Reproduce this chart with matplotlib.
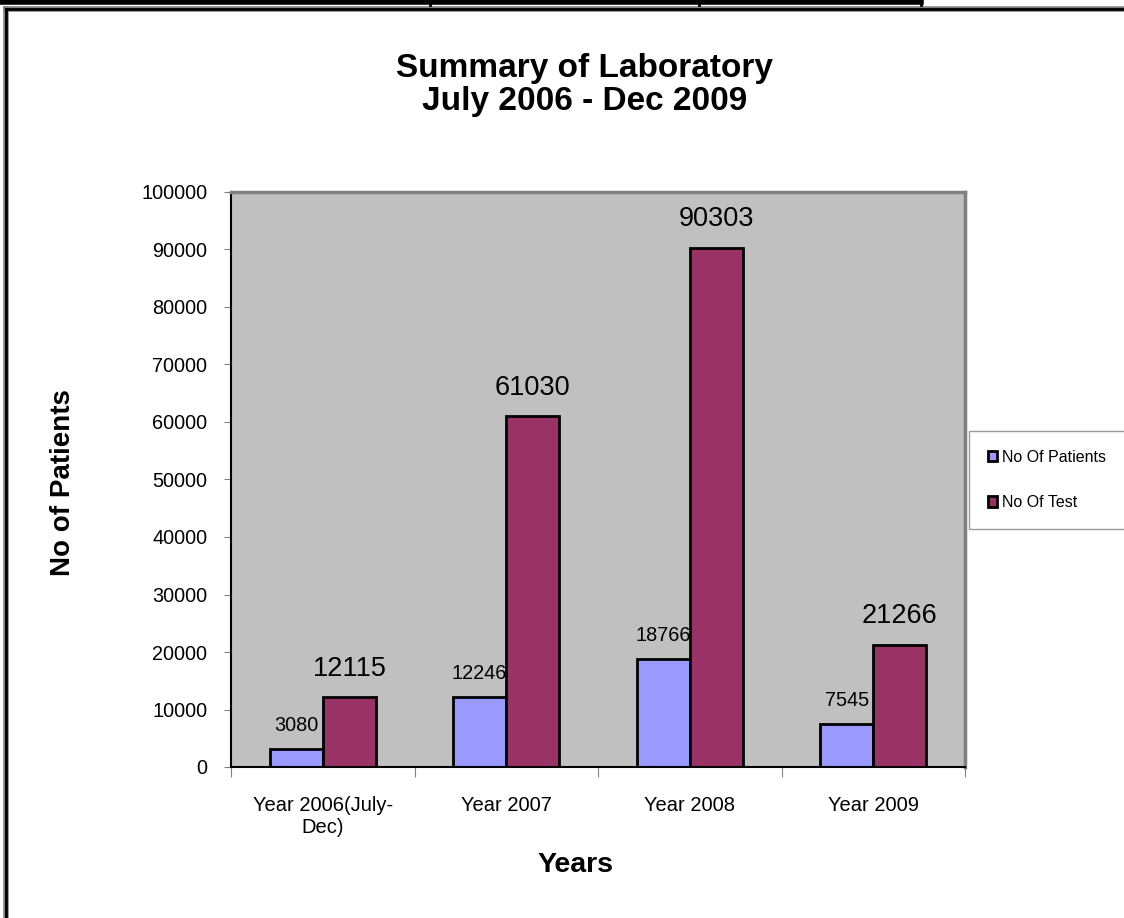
import matplotlib
matplotlib.use('Agg')
from matplotlib import pyplot as plt
from matplotlib.lines import Line2D
from matplotlib.patches import Patch
import numpy as np

plt.rcParams['font.family'] = ['Liberation Sans', 'DejaVu Sans']

years = ['Year 2006(July-\nDec)', 'Year 2007', 'Year 2008', 'Year 2009']
patients = [3080, 12246, 18766, 7545]
tests = [12115, 61030, 90303, 21266]

W, H = 1124, 918
fig = plt.figure(figsize=(W / 100, H / 100), dpi=100)
ax = fig.add_axes([231 / W, 1 - 767 / H, (965 - 231) / W, (767 - 192) / H])
ax.set_facecolor('#C0C0C0')

x = np.arange(len(years))
width = 0.29
b1 = ax.bar(x - width / 2, patients, width, color='#9999FF', edgecolor='black', linewidth=2, label='No Of Patients')
b2 = ax.bar(x + width / 2, tests, width, color='#993366', edgecolor='black', linewidth=2, label='No Of Test')

for rect, v in zip(b1, patients):
    ax.annotate(str(v), (rect.get_x() + rect.get_width() / 2, v), xytext=(0, 10),
                textcoords='offset points', ha='center', va='bottom', fontsize=14.3)
for rect, v in zip(b2, tests):
    ax.annotate(str(v), (rect.get_x() + rect.get_width() / 2, v), xytext=(0, 11),
                textcoords='offset points', ha='center', va='bottom', fontsize=19.5)

ax.set_xlim(-0.5, len(years) - 0.5)
ax.set_ylim(0, 100000)
ax.set_yticks(np.arange(0, 100001, 10000))
ax.tick_params(axis='y', labelsize=14.3, length=5, color='#808080', pad=12)
ax.set_xticks(np.arange(-0.5, len(years), 1))
ax.set_xticklabels([])
ax.set_xticks(x, minor=True)
ax.set_xticklabels(years, minor=True, fontsize=14.5)
ax.tick_params(axis='x', which='major', length=7, color='#808080')
ax.tick_params(axis='x', which='minor', length=0, pad=21)

ax.spines['left'].set_color('black')
ax.spines['bottom'].set_color('black')
ax.spines['left'].set_linewidth(1.5)
ax.spines['bottom'].set_linewidth(1.5)
ax.spines['top'].set_color('#808080')
ax.spines['right'].set_color('#808080')
ax.spines['top'].set_linewidth(2.5)
ax.spines['right'].set_linewidth(2.5)

ax.set_ylabel('No of Patients', fontsize=20, fontweight='bold')
ax.yaxis.set_label_coords(-(231 - 63) / 734, (767 - 483) / 575)
ax.set_xlabel('Years', fontsize=20.5, fontweight='bold')
ax.xaxis.set_label_coords((575 - 231) / 734, -(865 - 767) / 575)
ax.xaxis.label.set_va('center')
ax.yaxis.label.set_va('center')

fig.text(585 / W, 1 - 85 / H, 'Summary of Laboratory\nJuly 2006 - Dec 2009', ha='center', va='center',
         fontsize=24, fontweight='bold', linespacing=1.05)

handles = [Patch(facecolor='#9999FF', edgecolor='black', linewidth=2, label='No Of Patients'),
           Patch(facecolor='#993366', edgecolor='black', linewidth=2, label='No Of Test')]
leg = fig.legend(handles=handles, loc='center', bbox_to_anchor=(1047 / W, 1 - 480 / H),
                 fontsize=11.5, frameon=True, fancybox=False, handlelength=0.6, handleheight=0.6,
                 handletextpad=0.3, labelspacing=1.9, borderpad=1.2, edgecolor='#808080')
leg.get_frame().set_linewidth(1)

# outer chart frame and table lines above it
fig.add_artist(Line2D([6 / W, 6 / W], [0, 1 - 9 / H], transform=fig.transFigure, color='#808080', lw=4))
fig.add_artist(Line2D([6 / W, 1], [1 - 9 / H, 1 - 9 / H], transform=fig.transFigure, color='#808080', lw=4))
fig.add_artist(Line2D([6 / W, 6 / W], [0, 1 - 9 / H], transform=fig.transFigure, color='black', lw=2))
fig.add_artist(Line2D([6 / W, 1], [1 - 9 / H, 1 - 9 / H], transform=fig.transFigure, color='black', lw=2))
fig.add_artist(Line2D([0, 921 / W], [1 - 2 / H, 1 - 2 / H], transform=fig.transFigure, color='black', lw=4))
for xv in [430, 699, 921]:
    fig.add_artist(Line2D([xv / W, xv / W], [1 - 5 / H, 1], transform=fig.transFigure, color='black', lw=2))

plt.savefig('out.png', dpi=100)
